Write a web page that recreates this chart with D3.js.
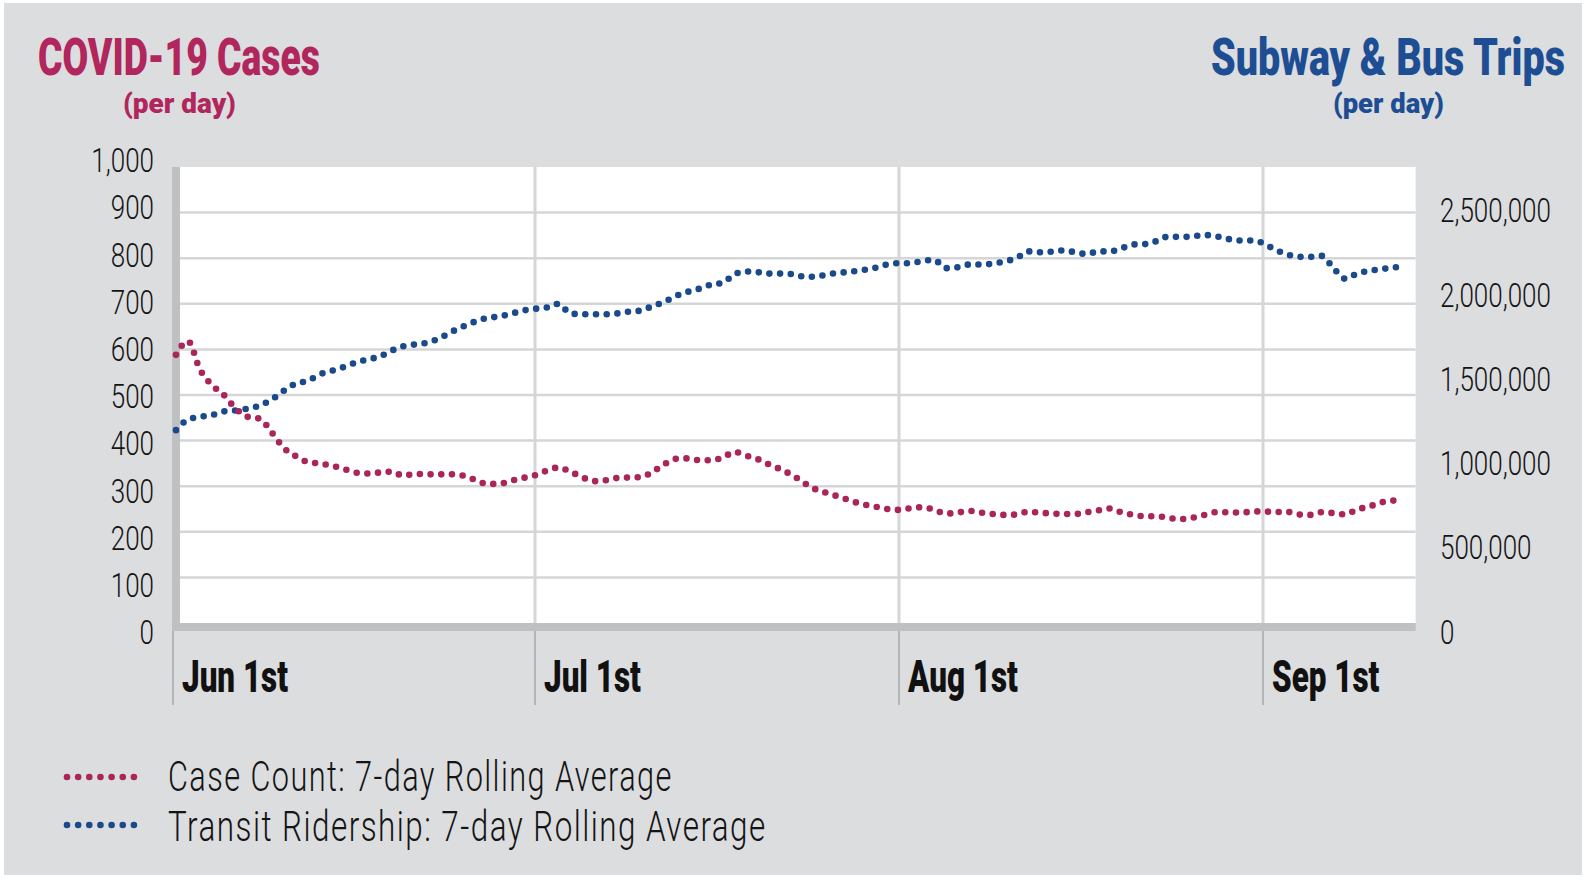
<!DOCTYPE html>
<html>
<head>
<meta charset="utf-8">
<script src="https://cdn.jsdelivr.net/npm/d3@7"></script>
<style>
  html, body { margin: 0; padding: 0; background: #fff; }
  svg { display: block; }
  text { font-family: Roboto, "Noto Sans", sans-serif; }
</style>
</head>
<body>
<svg id="chart" width="1586" height="880"></svg>
<script>
// daily 7-day rolling averages, starting Jun 1st
var startDate = new Date(Date.UTC(2020, 5, 1));

var caseCounts = [
  588, 618, 556, 522, 500, 470, 452, 448, 418, 384,
  366, 353, 350, 345, 338, 330, 328, 330, 332, 323,
  327, 326, 326, 326, 323, 314, 305, 305, 312, 318,
  324, 334, 341, 332, 320, 311, 313, 318, 319, 320,
  331, 348, 360, 361, 357, 357, 363, 375, 367, 359,
  347, 336, 323, 306, 292, 284, 276, 267, 260, 255,
  250, 248, 252, 254, 248, 240, 242, 246, 242, 239,
  237, 238, 244, 242, 240, 239, 239, 243, 247, 251,
  242, 237, 234, 234, 230, 228, 231, 237, 243, 243,
  242, 244, 245, 243, 244, 238, 237, 243, 241, 238,
  249, 255, 264, 268, 272
];

var ridership = [
  1163000, 1227000, 1243000, 1254000, 1276000, 1282000, 1293000, 1312000, 1348000, 1400000,
  1444000, 1460000, 1499000, 1521000, 1543000, 1570000, 1590000, 1606000, 1642000, 1669000,
  1680000, 1691000, 1716000, 1755000, 1788000, 1818000, 1840000, 1848000, 1865000, 1884000,
  1895000, 1903000, 1925000, 1867000, 1862000, 1862000, 1862000, 1867000, 1878000, 1884000,
  1911000, 1936000, 1972000, 1997000, 2016000, 2041000, 2052000, 2104000, 2120000, 2115000,
  2107000, 2107000, 2104000, 2087000, 2090000, 2104000, 2112000, 2120000, 2129000, 2142000,
  2162000, 2170000, 2170000, 2184000, 2189000, 2140000, 2145000, 2162000, 2162000, 2167000,
  2181000, 2200000, 2241000, 2236000, 2239000, 2247000, 2236000, 2225000, 2241000, 2241000,
  2261000, 2283000, 2285000, 2305000, 2332000, 2327000, 2332000, 2340000, 2332000, 2316000,
  2307000, 2307000, 2291000, 2252000, 2225000, 2208000, 2208000, 2214000, 2140000, 2076000,
  2107000, 2123000, 2134000, 2142000, 2153000
];

var leftTicks = [0, 100, 200, 300, 400, 500, 600, 700, 800, 900, 1000];
var rightTicks = [0, 500000, 1000000, 1500000, 2000000, 2500000];
var monthTicks = [new Date(Date.UTC(2020, 5, 1)), new Date(Date.UTC(2020, 6, 1)),
                  new Date(Date.UTC(2020, 7, 1)), new Date(Date.UTC(2020, 8, 1))];
var monthLabels = ["Jun 1st", "Jul 1st", "Aug 1st", "Sep 1st"];
var seriesNames = ["Case Count: 7-day Rolling Average", "Transit Ridership: 7-day Rolling Average"];

var red = "#aa2659", blue = "#1b4a8a";

var cases = caseCounts.map(function(v, i) { return {date: d3.utcDay.offset(startDate, i), value: v}; });
var rides = ridership.map(function(v, i) { return {date: d3.utcDay.offset(startDate, i), value: v}; });

var svg = d3.select("#chart");

// squeeze text horizontally so it reads like the condensed face of the original
function squeeze(sel, k) {
  sel.each(function() {
    var t = d3.select(this);
    var x = +t.attr("x") || 0, y = +t.attr("y") || 0;
    t.attr("x", 0).attr("y", 0)
     .attr("transform", "translate(" + x + "," + y + ") scale(" + k + ",1)");
  });
}
function fitK(node, w) { return w / node.getComputedTextLength(); }

svg.append("rect")
  .attr("x", 4).attr("y", 3).attr("width", 1578).attr("height", 872)
  .attr("fill", "#dcdddf");

// June is drawn a bit wider than the later months in the original
var x = d3.scaleUtc()
  .domain([monthTicks[0], monthTicks[1], monthTicks[3]])
  .range([176, 535, 1263]);

var yLeft = d3.scaleLinear().domain([0, 1000]).range([623, 167]);
var yRight = d3.scaleLinear().domain([0, 2750000]).range([623, 167]);

// label positions drift a little from the gridlines in the original
var yLeftLab = d3.scaleLinear().domain([0, 1000]).range([632, 160]);
var yRightLab = d3.scaleLinear().domain([0, 2500000]).range([631.5, 210]);

var plotRight = x(d3.utcDay.offset(cases[cases.length - 1].date, 1));

// plot area
svg.append("rect")
  .attr("x", 180).attr("y", yLeft(1000))
  .attr("width", plotRight - 180).attr("height", yLeft(0) - yLeft(1000))
  .attr("fill", "#fff");

// horizontal grid
svg.append("g").selectAll("line")
  .data(leftTicks.filter(function(d) { return d > 0 && d < 1000; }))
  .enter().append("line")
  .attr("x1", 180).attr("x2", plotRight)
  .attr("y1", function(d) { return yLeft(d); })
  .attr("y2", function(d) { return yLeft(d); })
  .attr("stroke", "#d6d6d6").attr("stroke-width", 2.5);

// vertical month grid
svg.append("g").selectAll("line")
  .data(monthTicks.slice(1))
  .enter().append("line")
  .attr("x1", function(d) { return x(d); }).attr("x2", function(d) { return x(d); })
  .attr("y1", yLeft(1000)).attr("y2", yLeft(0))
  .attr("stroke", "#d6d6d6").attr("stroke-width", 3);

// axis bars
svg.append("rect")
  .attr("x", 172).attr("y", yLeft(1000)).attr("width", 8).attr("height", yLeft(0) - yLeft(1000) + 8)
  .attr("fill", "#bfc0c2");
svg.append("rect")
  .attr("x", 172).attr("y", yLeft(0)).attr("width", plotRight - 172).attr("height", 8)
  .attr("fill", "#bfc0c2");

// month ticks below the axis
svg.append("g").selectAll("line")
  .data(monthTicks)
  .enter().append("line")
  .attr("x1", function(d, i) { return i === 0 ? 173 : x(d); })
  .attr("x2", function(d, i) { return i === 0 ? 173 : x(d); })
  .attr("y1", yLeft(0) + 8).attr("y2", 705)
  .attr("stroke", "#b4b5b7").attr("stroke-width", 2);

// month labels
var mLab = svg.append("g").selectAll("text")
  .data(monthTicks)
  .enter().append("text")
  .attr("x", function(d, i) { return (i === 0 ? 173 : x(d)) + 9; })
  .attr("y", 692)
  .attr("font-size", 45).attr("font-weight", 900).attr("fill", "#111")
  .text(function(d, i) { return monthLabels[i]; });
squeeze(mLab, fitK(mLab.node(), 106));

// left tick labels
var lLab = svg.append("g").selectAll("text")
  .data(leftTicks)
  .enter().append("text")
  .attr("x", 154).attr("y", function(d) { return yLeftLab(d); })
  .attr("dy", "0.36em").attr("text-anchor", "end")
  .attr("font-size", 34).attr("font-weight", 300).attr("fill", "#141414")
  .text(function(d) { return d3.format(",")(d); });

// right tick labels
var rLab = svg.append("g").selectAll("text")
  .data(rightTicks)
  .enter().append("text")
  .attr("x", 1440).attr("y", function(d) { return yRightLab(d); })
  .attr("dy", "0.36em")
  .attr("font-size", 34).attr("font-weight", 300).attr("fill", "#141414")
  .text(function(d) { return d3.format(",")(d); });
var kTick = fitK(rLab.filter(function(d) { return d === 2500000; }).node(), 111);
squeeze(lLab, kTick);
squeeze(rLab, kTick);

// dotted series
var lineCases = d3.line()
  .x(function(d) { return x(d.date); })
  .y(function(d) { return yLeft(d.value); })
  .curve(d3.curveMonotoneX);
var lineRides = d3.line()
  .x(function(d) { return x(d.date); })
  .y(function(d) { return yRight(d.value); })
  .curve(d3.curveMonotoneX);

svg.append("path").datum(rides)
  .attr("d", lineRides)
  .attr("fill", "none").attr("stroke", blue).attr("stroke-width", 6.6)
  .attr("stroke-linecap", "round").attr("stroke-dasharray", "0 10.7");
svg.append("path").datum(cases)
  .attr("d", lineCases)
  .attr("fill", "none").attr("stroke", red).attr("stroke-width", 6.6)
  .attr("stroke-linecap", "round").attr("stroke-dasharray", "0 10.7");

// titles
var t1 = svg.append("text").attr("x", 38).attr("y", 75)
  .attr("font-size", 52).attr("font-weight", 900).attr("fill", "#b0265d")
  .text("COVID-19 Cases");
squeeze(t1, fitK(t1.node(), 282));
var t1b = svg.append("text").attr("x", 123).attr("y", 113)
  .attr("font-size", 28).attr("font-weight", 900).attr("fill", "#b0265d")
  .text("(per day)");
squeeze(t1b, fitK(t1b.node(), 113));

var t2 = svg.append("text").attr("x", 1211).attr("y", 75)
  .attr("font-size", 52).attr("font-weight", 900).attr("fill", "#1d4e93")
  .text("Subway & Bus Trips");
squeeze(t2, fitK(t2.node(), 354));
var t2b = svg.append("text").attr("x", 1333).attr("y", 113)
  .attr("font-size", 28).attr("font-weight", 900).attr("fill", "#1d4e93")
  .text("(per day)");
squeeze(t2b, fitK(t2b.node(), 111));

// legend
var legendWidths = [505, 599];
var legend = svg.append("g").selectAll("g")
  .data(seriesNames)
  .enter().append("g");
legend.append("line")
  .attr("x1", 67).attr("x2", 134)
  .attr("y1", function(d, i) { return 777 + i * 48; })
  .attr("y2", function(d, i) { return 777 + i * 48; })
  .attr("stroke", function(d, i) { return i === 0 ? red : blue; })
  .attr("stroke-width", 6.6).attr("stroke-linecap", "round")
  .attr("stroke-dasharray", "0 11.15");
legend.append("text")
  .attr("x", 168)
  .attr("y", function(d, i) { return 791 + i * 50; })
  .attr("font-size", 43).attr("font-weight", 300).attr("fill", "#141414")
  .attr("letter-spacing", 2)
  .text(function(d) { return d; })
  .each(function(d, i) { squeeze(d3.select(this), fitK(this, legendWidths[i])); });
</script>
</body>
</html>
